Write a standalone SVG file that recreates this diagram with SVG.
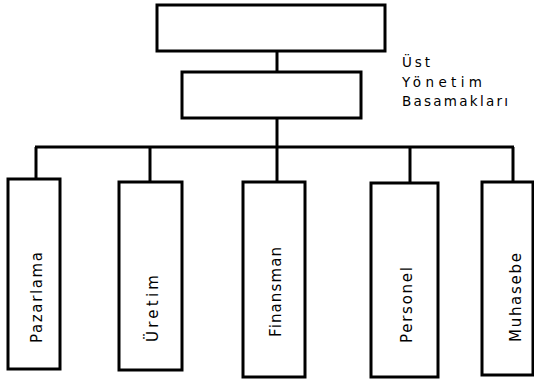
<svg xmlns="http://www.w3.org/2000/svg" width="534" height="381" viewBox="0 0 534 381">
<style>
.box{fill:#fff;stroke:#000;stroke-width:3}
.ln{stroke:#000;stroke-width:3;fill:none}
.lbl{font-family:"DejaVu Sans",Verdana,sans-serif;font-size:15px;fill:#000}
.hd{font-family:"DejaVu Sans",Verdana,sans-serif;font-size:13.5px;fill:#000}
</style>
<rect width="534" height="381" fill="#fff"/>
<g id="connectors">
<line class="ln" x1="277" y1="51" x2="277" y2="72"/>
<line class="ln" x1="277" y1="118" x2="277" y2="147"/>
<line class="ln" x1="35" y1="147" x2="514" y2="147"/>
<line class="ln" x1="36" y1="147" x2="36" y2="179"/>
<line class="ln" x1="150" y1="147" x2="150" y2="182"/>
<line class="ln" x1="277" y1="147" x2="277" y2="182"/>
<line class="ln" x1="410" y1="147" x2="410" y2="183"/>
<line class="ln" x1="513" y1="147" x2="513" y2="182"/>
</g>
<g id="top1"><rect class="box" x="157" y="5" width="228" height="46"/></g>
<g id="top2"><rect class="box" x="182" y="72" width="179" height="46"/></g>
<g id="header-label">
<text class="hd" x="402" y="67" textLength="28" lengthAdjust="spacing">Üst</text>
<text class="hd" x="402" y="87" textLength="80" lengthAdjust="spacing">Yönetim</text>
<text class="hd" x="402" y="106" textLength="106" lengthAdjust="spacing">Basamakları</text>
</g>
<g id="pazarlama"><rect class="box" x="8" y="179" width="52" height="190"/>
<text class="lbl" transform="translate(42,343) rotate(-90)" textLength="91" lengthAdjust="spacing">Pazarlama</text></g>
<g id="uretim"><rect class="box" x="119" y="182" width="63" height="188"/>
<text class="lbl" transform="translate(158,342) rotate(-90)" textLength="67" lengthAdjust="spacing">Üretim</text></g>
<g id="finansman"><rect class="box" x="243" y="182" width="62" height="195"/>
<text class="lbl" transform="translate(281,337) rotate(-90)" textLength="90" lengthAdjust="spacing">Finansman</text></g>
<g id="personel"><rect class="box" x="371" y="183" width="67" height="194"/>
<text class="lbl" transform="translate(412,343) rotate(-90)" textLength="76" lengthAdjust="spacing">Personel</text></g>
<g id="muhasebe"><rect class="box" x="482" y="182" width="51" height="193"/>
<text class="lbl" transform="translate(521,342) rotate(-90)" textLength="89" lengthAdjust="spacing">Muhasebe</text></g>
</svg>
